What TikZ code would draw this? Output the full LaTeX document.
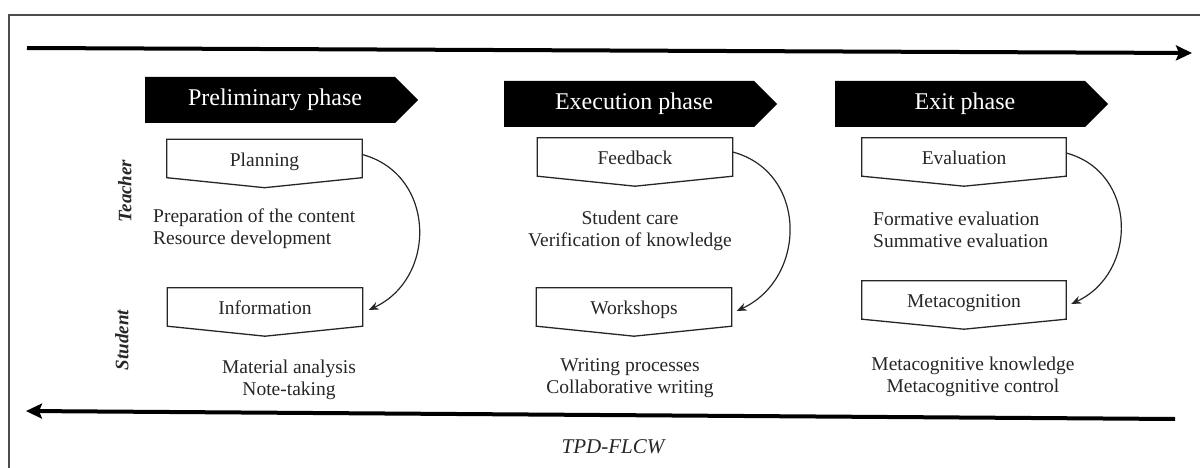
\documentclass[tikz,border=0pt]{standalone}
\usepackage{fontspec}
\setmainfont{Liberation Serif}
\usetikzlibrary{arrows.meta,calc}
\begin{document}
\begin{tikzpicture}[x=1pt,y=-1pt,
  banner/.style={text=white,font=\fontsize{24}{26}\selectfont,inner sep=0pt},
  stagebox/.style={minimum width=195pt,minimum height=38pt,inner sep=0pt,
    text height=15.5pt,text depth=0pt,
    text=black!85,font=\fontsize{19.5}{21}\selectfont},
  boxline/.style={line width=1.3pt,black!85},
  note/.style={inner sep=0pt,text=black!85,font=\fontsize{19.5}{21.5}\selectfont},
  lane/.style={rotate=90,inner sep=0pt,text=black!85,font=\fontsize{19}{21}\selectfont\bfseries\itshape},
  timeline/.style={line width=4pt,-{Stealth[length=16pt,width=15pt,inset=3pt]}},
  loop/.style={line width=1.2pt,black!85,-{Stealth[length=10pt,width=8pt]}},
  frame/.style={line width=1.6pt,black!70}
]
\useasboundingbox (0,0) rectangle (1200,468);

% outer frame
\draw[frame] (1201,15) -- (9,15) -- (9,469);

% time lines
\coordinate (tl0) at (27,48);
\coordinate (tl1) at (1192,53);
\draw[timeline] (tl0) -- (tl1);
\coordinate (bl0) at (1175,419);
\coordinate (bl1) at (26,411);
\draw[timeline] (bl0) -- (bl1);

% phase banners
\coordinate (c1) at (275,100);
\coordinate (c2) at (634,104);
\coordinate (c3) at (965,104);
\foreach \c in {c1,c2,c3}
  \fill ($(\c)+(-130,-23)$) -- ($(\c)+(120,-23)$) -- ($(\c)+(143,0)$)
        -- ($(\c)+(120,23)$) -- ($(\c)+(-130,23)$) -- cycle;
\node[banner] (ph1) at (c1) {Preliminary phase};
\node[banner] (ph2) at (c2) {Execution phase};
\node[banner] (ph3) at (c3) {Exit phase};

% stage boxes
\node[stagebox] (plan) at (264.5,158.5) {Planning};
\node[stagebox] (info) at (265,307) {Information};
\node[stagebox] (feed) at (635,157) {Feedback};
\node[stagebox] (work) at (634,307) {Workshops};
\node[stagebox,minimum width=204pt] (eval) at (964,157) {Evaluation};
\node[stagebox,minimum width=204pt] (meta) at (964,300) {Metacognition};
\foreach \n in {plan,info,feed,work,eval,meta}
  \draw[boxline] (\n.north west) -- (\n.north east) -- (\n.south east)
     -- ($(\n.south)+(0,10)$) -- (\n.south west) -- cycle;

% activities
\node[note,align=left,anchor=west] (prepn) at (153,228.5) {Preparation of the content\\Resource development};
\node[note,align=center] (execn) at (630,231) {Student care\\Verification of knowledge};
\node[note,align=left,anchor=west] (exitn) at (873,230) {Formative evaluation\\Summative evaluation};
\node[note,align=center] (infon) at (289,380) {Material analysis\\Note-taking};
\node[note,align=center] (workn) at (630,378) {Writing processes\\Collaborative writing};
\node[note,align=center] (metan) at (973,377) {Metacognitive knowledge\\Metacognitive control};

% lanes
\node[lane] (teacher) at (125,191) {Teacher};
\node[lane] (student) at (122,340) {Student};

% caption
\node[inner sep=0pt,text=black!85,font=\fontsize{21}{23}\selectfont\itshape] (tpd) at (613,447) {TPD-FLCW};

% teacher to student links
\draw[loop] ([yshift=4pt]plan.east) to[out=-15,in=25,looseness=1.25] ([xshift=6pt,yshift=-3pt]info.east);
\draw[loop] ([yshift=5pt]feed.east) to[out=-15,in=25,looseness=1.25] ([xshift=5pt,yshift=-4pt]work.east);
\draw[loop] ([yshift=4pt]eval.east) to[out=-15,in=25,looseness=1.25] ([xshift=5pt,yshift=-4pt]meta.east);
\end{tikzpicture}
\end{document}
